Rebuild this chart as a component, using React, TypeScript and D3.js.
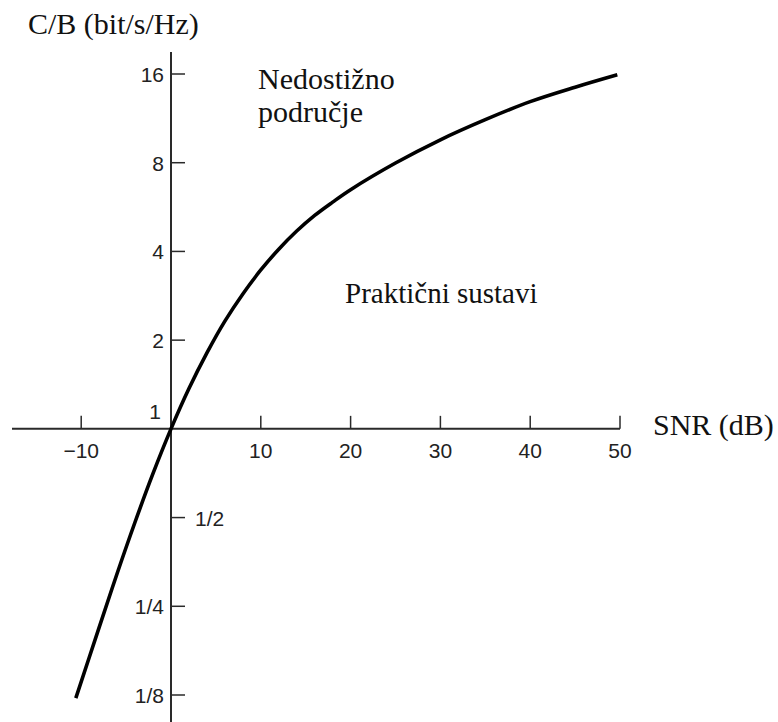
import React from "react";
import * as d3 from "d3";

const snrDb = [-10.6, -8, -6, -4, -2, 0, 2, 4, 6, 8, 10, 12, 14, 16, 18, 20, 25, 30, 35, 40, 45, 49.7];
const capacity = [0.122, 0.212, 0.323, 0.483, 0.706, 1, 1.37, 1.81, 2.32, 2.87, 3.46, 4.07, 4.69, 5.3, 5.88, 6.48, 7.98, 9.57, 11.2, 12.89, 14.43, 15.9];

const xTicks = [-10, 10, 20, 30, 40, 50];
const xTickLabels = ["\u221210", "10", "20", "30", "40", "50"];
const yTicks = [16, 8, 4, 2, 1, 0.5, 0.25, 0.125];
const yTickLabels = ["16", "8", "4", "2", "1", "1/2", "1/4", "1/8"];

const W = 778;
const H = 722;

export default function App() {
  const x = d3.scaleLinear().domain([0, 50]).range([171, 620]);
  const y = d3.scaleLog().base(2).domain([0.125, 16]).range([695, 74]);
  const x0 = x(0);
  const y1 = y(1);

  const pts: [number, number][] = snrDb.map((s, i) => [s, capacity[i]]);
  const line = d3
    .line<[number, number]>()
    .x((d) => x(d[0]))
    .y((d) => y(d[1]))
    .curve(d3.curveCatmullRom.alpha(0.5));

  const serif = "'Liberation Serif', 'Times New Roman', serif";
  const sans = "'Liberation Sans', Arial, sans-serif";
  const axisColor = "#2a2a2a";
  const tickFont = 21;

  return (
    <svg
      width={W}
      height={H}
      style={{ position: "absolute", left: 0, top: 0, background: "#fff" }}
    >
      {/* axes */}
      <line x1={12} x2={x(50)} y1={y1} y2={y1} stroke={axisColor} strokeWidth={2} />
      <line x1={x0} x2={x0} y1={52} y2={H} stroke={axisColor} strokeWidth={2} />

      {/* x ticks */}
      {xTicks.map((t, i) => (
        <g key={"xt" + t}>
          <line x1={x(t)} x2={x(t)} y1={y1} y2={y1 - 13} stroke={axisColor} strokeWidth={1.5} />
          <text
            x={x(t)}
            y={458}
            textAnchor="middle"
            fontFamily={sans}
            fontSize={tickFont}
            fill="#222"
          >
            {xTickLabels[i]}
          </text>
        </g>
      ))}

      {/* y ticks */}
      {yTicks.map((t, i) => {
        if (t === 1) {
          return (
            <text
              key={"yt" + t}
              x={161}
              y={419}
              textAnchor="end"
              fontFamily={sans}
              fontSize={tickFont}
              fill="#222"
            >
              {yTickLabels[i]}
            </text>
          );
        }
        const right = t === 0.5;
        return (
          <g key={"yt" + t}>
            <line x1={x0} x2={x0 + 14} y1={y(t)} y2={y(t)} stroke={axisColor} strokeWidth={1.5} />
            <text
              x={right ? 195 : 164}
              y={y(t) + 8}
              textAnchor={right ? "start" : "end"}
              fontFamily={sans}
              fontSize={tickFont}
              fill="#222"
            >
              {yTickLabels[i]}
            </text>
          </g>
        );
      })}

      {/* curve */}
      <path d={line(pts) || ""} fill="none" stroke="#000" strokeWidth={3.6} strokeLinecap="butt" />

      {/* titles */}
      <text x={28} y={34} fontFamily={serif} fontSize={30} fill="#111">
        C/B (bit/s/Hz)
      </text>
      <text x={653} y={435} fontFamily={serif} fontSize={30} fill="#111">
        SNR (dB)
      </text>
      <text x={258} y={89} fontFamily={serif} fontSize={30} fill="#111">
        Nedostižno
      </text>
      <text x={258} y={122} fontFamily={serif} fontSize={30} fill="#111">
        područje
      </text>
      <text x={345} y={303} fontFamily={serif} fontSize={29} fill="#111">
        Praktični sustavi
      </text>
    </svg>
  );
}
